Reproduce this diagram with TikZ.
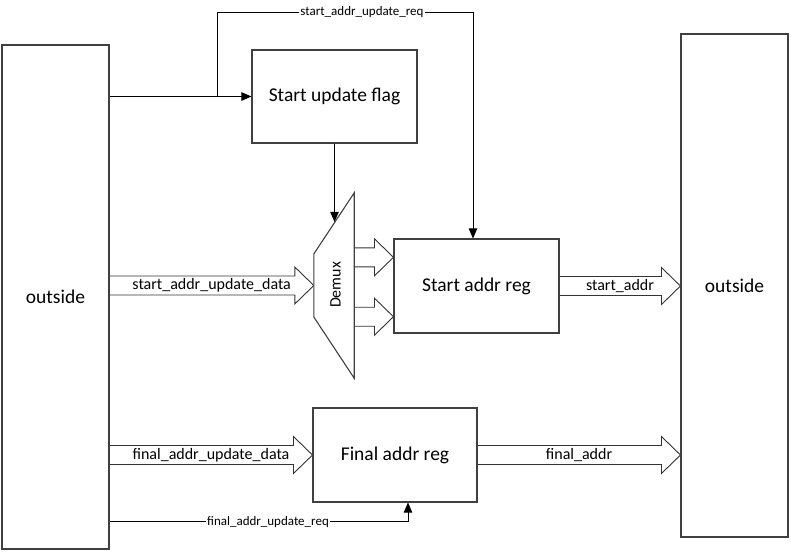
\documentclass[tikz,border=0pt]{standalone}
\usepackage{fontspec}
\setmainfont{Carlito}
\usetikzlibrary{calc,arrows.meta,backgrounds}
\tikzset{
  box/.style={draw=black!75, line width=1.1pt, fill=white, inner sep=0pt, font=\fontsize{19.5}{22}\selectfont},
  sig/.style={draw=black, line width=0.9pt, -{Triangle[length=10pt,width=8.5pt]}},
  fat/.style={draw=black!80, line width=0.9pt, fill=white},
  fatlbl/.style={font=\fontsize{16}{18}\selectfont, inner sep=0pt},
  reqlbl/.style={font=\fontsize{13}{15}\selectfont, fill=white, inner sep=1pt},
}
\newcommand\fatarr[3]{%
  \begin{pgfonlayer}{background}
  \draw[fat] ($(#1)+(0,-9.5)$) -- ($(#2)+(-19,-9.5)$) -- ($(#2)+(-19,-18.5)$) -- (#2)
    -- ($(#2)+(-19,18.5)$) -- ($(#2)+(-19,9.5)$) -- ($(#1)+(0,9.5)$);
  \end{pgfonlayer}
  \node[fatlbl] at ($(#1)!0.5!(#2)$) {#3};
}
\begin{document}
\begin{tikzpicture}[x=1pt,y=-1pt]
\useasboundingbox (0,0) rectangle (791,551);
% boxes
\node[box, minimum width=107pt, minimum height=504pt] (outL) at (55.5,297) {outside};
\node[box, minimum width=107pt, minimum height=503pt] (outR) at (734.5,285.5) {outside};
\node[box, minimum width=165pt, minimum height=93pt] (flag) at (334.5,96.5) {Start update flag};
\node[box, minimum width=165pt, minimum height=94pt] (sreg) at (476.5,286) {Start addr reg};
\node[box, minimum width=164pt, minimum height=94pt] (freg) at (395,455) {Final addr reg};
% demux
\node[minimum width=40pt, minimum height=185pt, inner sep=0pt] (demux) at (334,285.5) {};
\coordinate (dlt) at ($(demux.west)+(0,-31.5)$);
\coordinate (dlb) at ($(demux.west)+(0,31.5)$);
\draw[draw=black!75, line width=1.1pt, fill=white] (demux.north east) -- (dlt) -- (dlb) -- (demux.south east) -- cycle;
\node[rotate=90, font=\fontsize{16}{18}\selectfont, inner sep=0pt] (dlbl) at (335.5,285) {Demux};
\coordinate (dtop) at ($(demux.north east)!0.475!(dlt)$);
\draw[sig] (flag.south) -- (dtop -| flag.south);
% fat arrows
\fatarr{demux.west -| outL.east}{demux.west}{start\_addr\_update\_data}
\coordinate (o1) at ($(sreg.west)+(0,-28.7)$);
\coordinate (o2) at ($(sreg.west)+(0,30.7)$);
\fatarr{o1 -| demux.east}{o1}{}
\fatarr{o2 -| demux.east}{o2}{}
\fatarr{sreg.east}{outR.west |- sreg.east}{start\_addr}
\fatarr{freg.west -| outL.east}{freg.west}{final\_addr\_update\_data}
\fatarr{freg.east}{outR.west |- freg.east}{final\_addr}
% request lines
\coordinate (j1) at (217,96.5);
\coordinate (j2) at (473,12.5);
\draw[sig] (outL.east |- flag.west) -- (flag.west);
\draw[sig] (j1) |- (j2) -- (j2 |- sreg.north);
\node[reqlbl] (l1) at (362,12.5) {start\_addr\_update\_req};
\coordinate (fr) at (408,521.7);
\draw[sig] (outL.east |- fr) -- (fr) -- (fr |- freg.south);
\node[reqlbl] (l2) at (268,521.7) {final\_addr\_update\_req};
\end{tikzpicture}
\end{document}
